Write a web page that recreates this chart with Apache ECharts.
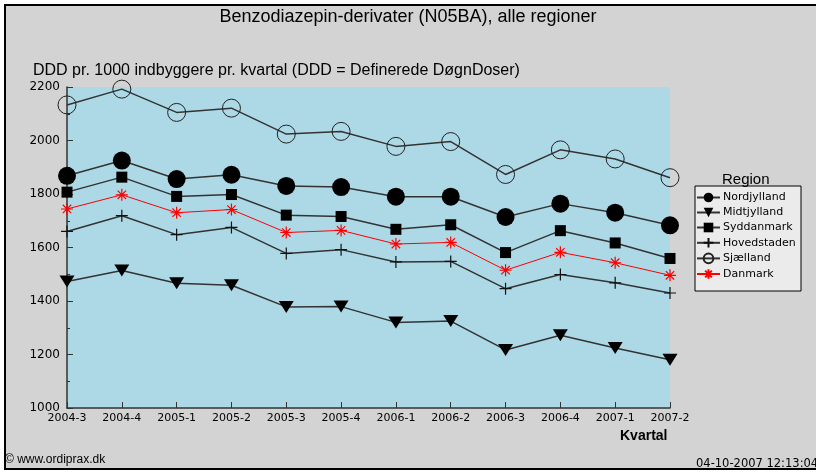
<!DOCTYPE html>
<html>
<head>
<meta charset="utf-8">
<script src="https://cdn.jsdelivr.net/npm/echarts@6/dist/echarts.min.js"></script>
<style>
  html, body { margin: 0; padding: 0; background: #fff; }
  #chart { width: 816px; height: 472px; }
</style>
</head>
<body>
<div id="chart"></div>
<script>
// kvartaler
const quarters = ['2004-3', '2004-4', '2005-1', '2005-2', '2005-3', '2005-4',
  '2006-1', '2006-2', '2006-3', '2006-4', '2007-1', '2007-2'];

// DDD pr. 1000 indbyggere pr. kvartal
const nordjylland = [1868, 1925, 1856, 1872, 1830, 1826, 1790, 1790, 1714, 1764, 1730, 1683];
const midtjylland = [1473, 1514, 1466, 1459, 1378, 1379, 1320, 1325, 1217, 1272, 1224, 1180];
const syddanmark = [1807, 1863, 1791, 1798, 1721, 1716, 1668, 1685, 1581, 1663, 1617, 1559];
const hovedstaden = [1660, 1719, 1648, 1675, 1578, 1592, 1546, 1548, 1446, 1499, 1468, 1430];
const sjaelland = [2133, 2192, 2105, 2121, 2024, 2034, 1978, 1996, 1873, 1965, 1931, 1861];
const danmark = [1744, 1797, 1730, 1742, 1656, 1664, 1613, 1619, 1515, 1582, 1543, 1496];

const yTicks = { min: 1000, max: 2200, step: 200 };

const plusPath = 'path://M5,0L5,10M0,5L10,5';
const starPath = 'path://M5,0L5,10M0,5L10,5M1.5,1.5L8.5,8.5M8.5,1.5L1.5,8.5';

const lineCol = '#333';
const baseFont = 'DejaVu Sans';

function mkSeries(name, data, opts) {
  return Object.assign({
    name: name,
    type: 'line',
    data: data,
    lineStyle: { color: lineCol, width: 1.5 },
    emphasis: { disabled: true },
    animation: false
  }, opts);
}

const series = [
  mkSeries('Nordjylland', nordjylland, {
    symbol: 'circle', symbolSize: 18,
    itemStyle: { color: '#000' }
  }),
  mkSeries('Midtjylland', midtjylland, {
    symbol: 'triangle', symbolSize: [15, 12], symbolRotate: 180,
    itemStyle: { color: '#000' }
  }),
  mkSeries('Syddanmark', syddanmark, {
    symbol: 'rect', symbolSize: 11,
    itemStyle: { color: '#000' }
  }),
  mkSeries('Hovedstaden', hovedstaden, {
    symbol: plusPath, symbolSize: 12,
    itemStyle: { color: 'transparent', borderColor: '#111', borderWidth: 1.2 }
  }),
  mkSeries('Sjælland', sjaelland, {
    symbol: 'circle', symbolSize: 18,
    itemStyle: { color: 'transparent', borderColor: '#222', borderWidth: 1 }
  }),
  mkSeries('Danmark', danmark, {
    symbol: starPath, symbolSize: 12,
    lineStyle: { color: '#ff0000', width: 1 },
    itemStyle: { color: 'transparent', borderColor: '#ff0000', borderWidth: 1.2 }
  })
];

const chart = echarts.init(document.getElementById('chart'));

chart.setOption({
  animation: false,
  backgroundColor: '#fff',
  graphic: [
    {
      type: 'rect', z: -10,
      shape: { x: 5, y: 5, width: 830, height: 464 },
      style: { fill: '#d3d3d3', stroke: '#000', lineWidth: 2 }
    },
    {
      type: 'rect', z: -5,
      shape: { x: 67, y: 87, width: 603, height: 321 },
      style: { fill: '#add8e6' }
    },
    {
      type: 'rect', z: 1,
      shape: { x: 695, y: 186, width: 106, height: 105 },
      style: { fill: '#ebebeb', stroke: '#000', lineWidth: 1 }
    },
    {
      type: 'text', left: 'center', top: 8, z: 5,
      style: { text: 'Benzodiazepin-derivater (N05BA), alle regioner', font: '18px "Liberation Sans"', fill: '#000' }
    },
    {
      type: 'text', left: 33, top: 63, z: 5,
      style: { text: 'DDD pr. 1000 indbyggere pr. kvartal (DDD = Definerede DøgnDoser)', font: '16px "Liberation Sans"', fill: '#000' }
    },
    {
      type: 'text', left: 722, top: 172, z: 5,
      style: { text: 'Region', font: '15px "Liberation Sans"', fill: '#000' }
    },
    {
      type: 'text', left: 620, top: 429, z: 5,
      style: { text: 'Kvartal', font: 'bold 14px "Liberation Sans"', fill: '#000' }
    },
    {
      type: 'text', left: 5, top: 454, z: 5,
      style: { text: '© www.ordiprax.dk', font: '12px "Liberation Sans"', fill: '#000' }
    },
    {
      type: 'text', left: 696, top: 458, z: 5,
      style: { text: '04-10-2007 12:13:04', font: '11.5px "DejaVu Sans"', fill: '#000' }
    }
  ],
  legend: {
    orient: 'vertical',
    left: 696, top: 192,
    padding: 0,
    itemWidth: 23, itemHeight: 12, itemGap: 4,
    textStyle: { fontFamily: baseFont, fontSize: 11, color: '#000', padding: [0, 0, 0, -2] },
    selectedMode: false,
    data: series.map(s => s.name)
  },
  grid: { left: 67, top: 87, width: 603, height: 321, containLabel: false },
  xAxis: {
    type: 'category',
    data: quarters,
    boundaryGap: false,
    axisLine: { lineStyle: { color: '#333', width: 1.5 } },
    axisTick: { inside: true, length: 6, lineStyle: { color: '#333' } },
    axisLabel: { color: '#000', fontFamily: baseFont, fontSize: 11, margin: 5 },
    splitLine: { show: false }
  },
  yAxis: {
    type: 'value',
    min: yTicks.min, max: yTicks.max, interval: yTicks.step,
    axisLine: { show: true, lineStyle: { color: '#333', width: 1.5 } },
    axisTick: { show: true, inside: true, length: 6, lineStyle: { color: '#333' } },
    minorTick: { show: true, splitNumber: 2, length: 3, lineStyle: { color: '#333' } },
    axisLabel: { color: '#000', fontFamily: baseFont, fontSize: 12, margin: 7, formatter: v => String(v) },
    splitLine: { show: false }
  },
  series: series
});
</script>
</body>
</html>
